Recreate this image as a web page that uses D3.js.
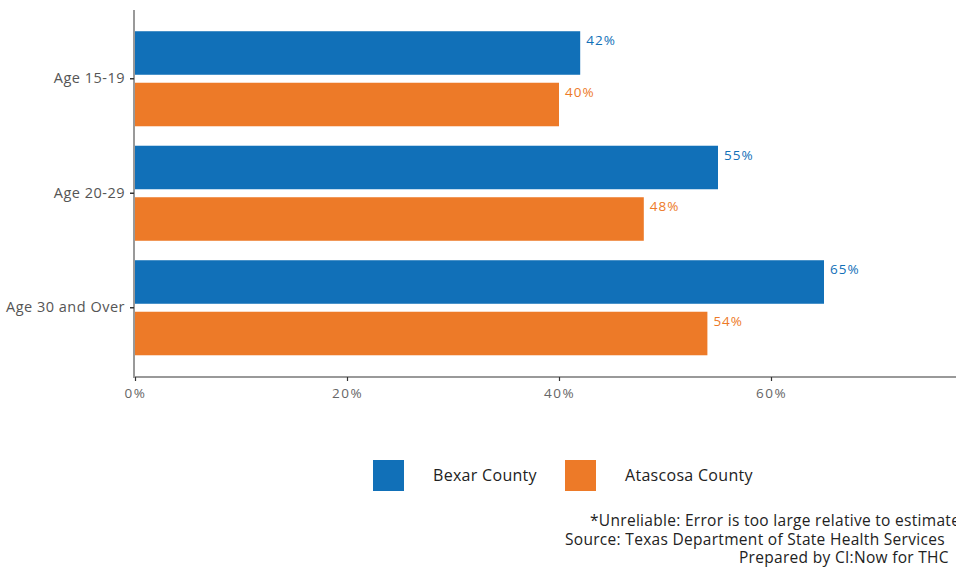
<!DOCTYPE html>
<html>
<head>
<meta charset="utf-8">
<script src="https://cdn.jsdelivr.net/npm/d3@7"></script>
<style>
  html, body { margin: 0; padding: 0; background: #fff; overflow: hidden; }
  svg { display: block; font-family: "Open Sans", sans-serif; }
</style>
</head>
<body>
<svg id="chart" width="956" height="569"></svg>
<script>
const categories = ["Age 15-19", "Age 20-29", "Age 30 and Over"];
const seriesNames = ["Bexar County", "Atascosa County"];
const bexarValues = [0.42, 0.55, 0.65];
const atascosaValues = [0.40, 0.48, 0.54];
const xTicks = [0, 0.2, 0.4, 0.6];
const colors = ["#1170b8", "#ed7a28"];
const captionLines = [
  "*Unreliable: Error is too large relative to estimate",
  "Source: Texas Department of State Health Services",
  "Prepared by CI:Now for THC"
];

const data = categories.map((c, i) => ({
  category: c,
  values: [
    { series: seriesNames[0], value: bexarValues[i], color: colors[0] },
    { series: seriesNames[1], value: atascosaValues[i], color: colors[1] }
  ]
}));

const svg = d3.select("#chart");

const x = d3.scaleLinear().domain([0, 0.8]).range([135, 983]);
const y = d3.scaleBand().domain(categories).range([21.5, 365]).paddingInner(0.17).paddingOuter(0.085);
const ySub = d3.scaleBand().domain(seriesNames).range([0, y.bandwidth()]).paddingInner(0.155);

const groups = svg.append("g").selectAll("g").data(data).join("g")
  .attr("transform", d => `translate(0,${y(d.category)})`);

groups.selectAll("rect").data(d => d.values).join("rect")
  .attr("x", x(0))
  .attr("y", d => ySub(d.series))
  .attr("width", d => x(d.value) - x(0))
  .attr("height", ySub.bandwidth())
  .attr("fill", d => d.color);

groups.selectAll("text").data(d => d.values).join("text")
  .attr("x", d => x(d.value) + 6)
  .attr("y", d => ySub(d.series) + 10.5)
  .attr("dominant-baseline", "middle")
  .attr("font-size", 13.5)
  .attr("letter-spacing", 1)
  .attr("fill", d => d.color)
  .text(d => Math.round(d.value * 100) + "%");

// x axis
const xAxis = svg.append("g").attr("transform", "translate(0,377)")
  .call(d3.axisBottom(x).tickValues(xTicks).tickFormat(d3.format(".0%")).tickSize(4).tickSizeOuter(0));
xAxis.select(".domain").attr("d", "M135,0H983").attr("stroke", "#999").attr("stroke-width", 2);
xAxis.selectAll(".tick line").attr("stroke", "#333").attr("stroke-width", 1.2);
xAxis.selectAll(".tick text").attr("fill", "#666").attr("font-size", 13.5)
  .attr("font-family", "'Open Sans', sans-serif").attr("letter-spacing", 1.5).attr("dy", "1.0em");

// y axis
const yAxis = svg.append("g").attr("transform", "translate(134,0)")
  .call(d3.axisLeft(y).tickSize(4).tickSizeOuter(0));
yAxis.select(".domain").attr("d", "M0,10V378").attr("stroke", "#999").attr("stroke-width", 2);
yAxis.selectAll(".tick line").attr("stroke", "#333").attr("stroke-width", 1.5);
yAxis.selectAll(".tick text").attr("fill", "#555").attr("font-size", 14.5)
  .attr("font-family", "'Open Sans', sans-serif").attr("letter-spacing", 0.5).attr("x", -9);

// legend
const legend = svg.append("g");
const legendPos = [373, 565];
seriesNames.forEach((s, i) => {
  legend.append("rect")
    .attr("x", legendPos[i]).attr("y", 460)
    .attr("width", 31).attr("height", 31)
    .attr("fill", colors[i]);
  legend.append("text")
    .attr("x", legendPos[i] + 60).attr("y", 477)
    .attr("dominant-baseline", "middle")
    .attr("font-size", 16).attr("letter-spacing", 0.3).attr("fill", "#222")
    .text(s);
});

// caption (overflows the right edge, as in the original)
const captionLeft = [590, 565, 739];
svg.append("g").selectAll("text").data(captionLines).join("text")
  .attr("x", (d, i) => captionLeft[i])
  .attr("y", (d, i) => 522 + i * 18.5)
  .attr("dominant-baseline", "middle")
  .attr("text-anchor", "start")
  .attr("font-size", 15.5)
  .attr("letter-spacing", 0.3)
  .attr("fill", "#222")
  .text(d => d);
</script>
</body>
</html>
